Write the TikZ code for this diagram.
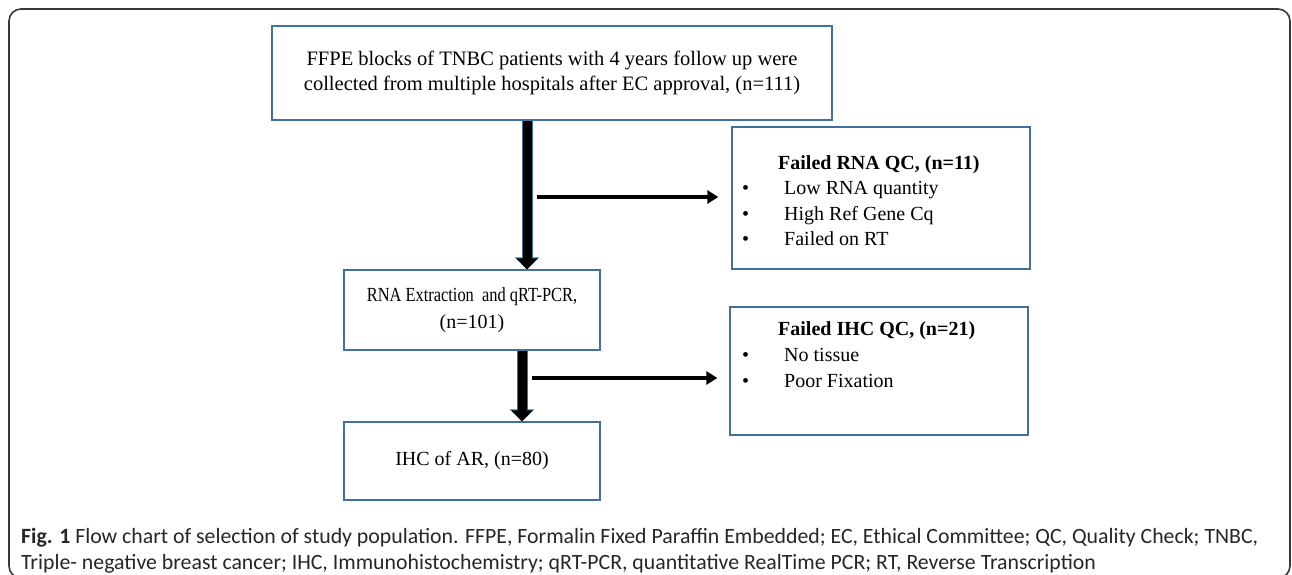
\documentclass[tikz,border=0pt]{standalone}
\usepackage{fontspec}
\setmainfont{Liberation Serif}
\newfontfamily\capfont{Carlito}
\usetikzlibrary{arrows.meta,positioning,calc}
\definecolor{boxblue}{HTML}{41719C}
\definecolor{framegray}{HTML}{383838}

\begin{document}
\begin{tikzpicture}[x=1pt,y=-1pt,
	flowbox/.style={draw=boxblue,line width=1.3pt,align=center,inner sep=0pt,font=\fontsize{20}{27}\selectfont},
	txt/.style={anchor=base west,inner sep=0pt,font=\fontsize{20}{25}\selectfont},
	qctitle/.style={txt,font=\fontsize{20}{25}\selectfont\bfseries},
	shaft/.style={line width=9pt,black,-{Triangle[width=21pt,length=11pt]},
		preaction={draw=boxblue,line width=11pt,-{Triangle[width=24pt,length=12pt]}}},
	branch/.style={line width=4pt,black,-{Triangle[width=13pt,length=11pt]}},
	captxt/.style={anchor=west,inner sep=0pt,font=\capfont\fontsize{21.8}{26}\selectfont,text=black!85}]
	\useasboundingbox (0,0) rectangle (1292,574);
	\draw[framegray,line width=1.6pt,rounded corners=12pt] (9,9) rectangle (1290,578);
	% boxes of the flow
	\node[flowbox,minimum width=560pt,minimum height=94pt,font=\fontsize{20.5}{25}\selectfont] (collect) at (552,73)
		{FFPE blocks of TNBC patients with 4 years follow up were\\collected from multiple hospitals after EC approval, (n=111)};
	\node[flowbox,minimum width=298pt,minimum height=142pt] (rnaqc) at (881,198) {};
	\node[flowbox,minimum width=256pt,minimum height=80pt] (extract) at (472,310)
		{\scalebox{0.82}[1]{RNA Extraction \ and qRT-PCR,}\\(n=101)};
	\node[flowbox,minimum width=298pt,minimum height=128pt] (ihcqc) at (879,371) {};
	\node[flowbox,minimum width=256pt,minimum height=78pt] (ihc) at (472,461) {IHC of AR, (n=80)};
	% excluded samples
	\node[qctitle] (rnatitle) at (778,169) {Failed RNA QC, (n=11)};
	\node[txt] (rnab1) at (742,194) {•};
	\node[txt] (rnai1) at (784,194) {Low RNA quantity};
	\node[txt] (rnab2) at (742,220) {•};
	\node[txt] (rnai2) at (784,220) {High Ref Gene Cq};
	\node[txt] (rnab3) at (742,245) {•};
	\node[txt] (rnai3) at (784,245) {Failed on RT};
	\node[qctitle] (ihctitle) at (778,335) {Failed IHC QC, (n=21)};
	\node[txt] (ihcb1) at (742,361) {•};
	\node[txt] (ihci1) at (784,361) {No tissue};
	\node[txt] (ihcb2) at (742,387) {•};
	\node[txt] (ihci2) at (784,387) {Poor Fixation};
	% arrows
	\coordinate (junc1) at (527,197);
	\coordinate (junc2) at (522,378);
	\draw[shaft] (collect.south -| junc1) -- (extract.north -| junc1);
	\draw[branch,shorten >=13pt] ([xshift=10pt]junc1) -- (rnaqc.west |- junc1);
	\draw[shaft] (extract.south -| junc2) -- (ihc.north -| junc2);
	\draw[branch,shorten >=12pt] ([xshift=10pt]junc2) -- (ihcqc.west |- junc2);
	% caption
	\node[captxt] (cap1) at (21,538) {\textbf{Fig. 1} Flow chart of selection of study population. FFPE, Formalin Fixed Paraffin Embedded; EC, Ethical Committee; QC, Quality Check; TNBC,};
	\node[captxt] (cap2) at (21,564) {Triple- negative breast cancer; IHC, Immunohistochemistry; qRT-PCR, quantitative RealTime PCR; RT, Reverse Transcription};
\end{tikzpicture}
\end{document}
